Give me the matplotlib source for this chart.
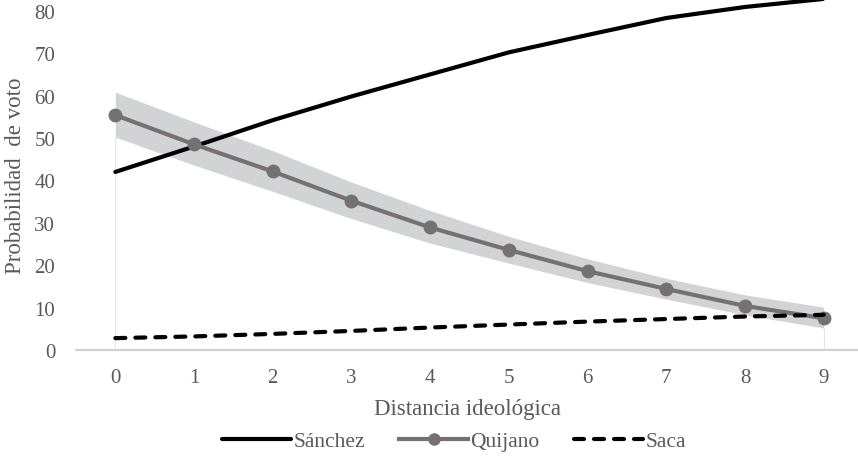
import matplotlib
matplotlib.use("Agg")
import matplotlib.pyplot as plt
from matplotlib.lines import Line2D

distancia = [0, 1, 2, 3, 4, 5, 6, 7, 8, 9]
sanchez = [42.0, 48.0, 54.2, 59.8, 65.0, 70.2, 74.3, 78.3, 80.9, 82.8]
quijano = [55.4, 48.5, 42.1, 35.2, 28.9, 23.6, 18.6, 14.4, 10.4, 7.5]
quijano_sup = [60.8, 53.8, 47.0, 39.6, 32.9, 26.8, 21.5, 16.9, 13.0, 10.1]
quijano_inf = [50.2, 43.6, 37.4, 31.0, 25.2, 20.5, 15.9, 12.0, 8.3, 5.2]
saca = [2.8, 3.2, 3.8, 4.5, 5.3, 6.0, 6.7, 7.3, 7.9, 8.3]
yticks = [0, 10, 20, 30, 40, 50, 60, 70, 80]

plt.rcParams['font.family'] = ['Liberation Serif', 'DejaVu Serif']

W, H = 858, 460
fig = plt.figure(figsize=(W / 100, H / 100), dpi=100)
left_px, right_px, bot_px, top_px = 76, 863, 351, 0
ax = fig.add_axes([left_px / W, 1 - bot_px / H, (right_px - left_px) / W, (bot_px - top_px) / H])

ymax = 351 / 4.24
ax.set_xlim(-0.5, 9.5)
ax.set_ylim(0, ymax)

band_col = '#d2d3d5'
q_col = '#767171'
tick_col = '#595959'

ax.fill_between(distancia, quijano_inf, quijano_sup, color=band_col, lw=0, zorder=1)
# faint drop edges of the band area
ax.vlines([distancia[0], distancia[-1]], 0, [quijano_inf[0], quijano_inf[-1]],
          colors='#e6e6e6', lw=0.8, zorder=0.5)

ax.plot(distancia, sanchez, color='black', lw=3.0, solid_capstyle='round', zorder=3, clip_on=False)
ax.plot(distancia, quijano, color=q_col, lw=3.0, marker='o', markersize=9,
        solid_capstyle='round', zorder=4)
ax.plot(distancia, saca, color='black', lw=3.0, dashes=(2.4, 2.4), dash_capstyle='round',
        zorder=5)

for s in ['top', 'right', 'left']:
    ax.spines[s].set_visible(False)
ax.spines['bottom'].set_color('#d0d0d0')
ax.spines['bottom'].set_linewidth(1.5)

ax.set_xticks(distancia)
ax.set_xticklabels([str(d) for d in distancia])
ax.set_yticks(yticks)
ax.tick_params(axis='both', length=0, labelsize=15, colors=tick_col)
ax.tick_params(axis='x', pad=13)
ax.tick_params(axis='y', pad=15)

fig.text(16 / W, 1 - 176 / H, 'Probabilidad  de voto', rotation=90, ha='center', va='center',
         fontsize=16.5, color=tick_col)
fig.text(468 / W, 1 - 410 / H, 'Distancia ideológica', ha='center', va='center',
         fontsize=16.5, color=tick_col)

handles = [
    Line2D([], [], color='black', lw=3.0, solid_capstyle='round'),
    Line2D([], [], color=q_col, lw=3.0, marker='o', markersize=8),
    Line2D([], [], color='black', lw=3.0, dashes=(2.4, 2.4), dash_capstyle='round'),
]
fig.legend(handles, ['Sánchez', 'Quijano', 'Saca'], loc='center', bbox_to_anchor=(454 / W, 1 - 442 / H),
           ncol=3, frameon=False, fontsize=15.5, handlelength=3.2, handletextpad=0.1,
           columnspacing=1.6, labelcolor=tick_col)

fig.savefig('out.png', dpi=100)
